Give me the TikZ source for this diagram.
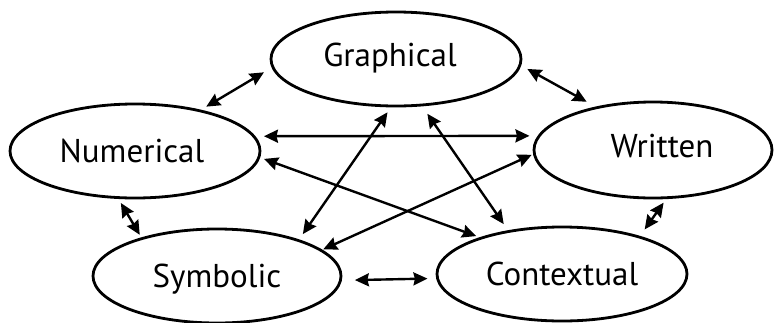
\documentclass[tikz,border=0pt]{standalone}
\usepackage{fontspec}
\setmainfont{PT Sans}
\usetikzlibrary{arrows.meta,shapes.geometric}
\begin{document}
\begin{tikzpicture}[x=1pt,y=-1pt,
  bubble/.style={draw, ellipse, line width=2.8pt, inner sep=0pt,
    font=\fontsize{33}{36}\selectfont, text height=23pt, text depth=0pt},
  link/.style={line width=2.4pt,
    {Stealth[length=14pt,width=13pt,inset=1.5pt]}-{Stealth[length=14pt,width=13pt,inset=1.5pt]}}]
\useasboundingbox (0,0) rectangle (774,322);
\node[bubble, minimum width=250pt, minimum height=94pt, text depth=8pt] (g) at (396,59) {Graphical\hspace*{12pt}};
\node[bubble, minimum width=250pt, minimum height=94pt] (n) at (135,151) {Numerical\hspace*{6pt}};
\node[bubble, minimum width=238pt, minimum height=96pt, text depth=8pt] (w) at (653,150) {\hspace*{18pt}Written};
\node[bubble, minimum width=248pt, minimum height=94pt] (s) at (217,276) {Symbolic};
\node[bubble, minimum width=250pt, minimum height=94pt] (c) at (562,274) {Contextual};
\draw[link, shorten <=9pt, shorten >=6pt] (g.184.8) -- (n.32.9);
\draw[link, shorten <=7pt, shorten >=10pt] (g.357.4) -- (w.143.6);
\draw[link, shorten <=8.6pt, shorten >=8.2pt] (n.7.2) -- (w.173);
\draw[link, shorten <=4pt, shorten >=3.6pt] (n.357.3) -- (c.156.5);
\draw[link, shorten <=9pt, shorten >=7.5pt] (g.299.9) -- (c.141.9);
\draw[link, shorten <=6pt, shorten >=6.5pt] (g.264.6) -- (s.24.6);
\draw[link, shorten <=1.5pt, shorten >=1pt] (w.182.4) -- (s.14);
\draw[link, shorten <=4.7pt, shorten >=3pt] (n.251.6) -- (s.153.1);
\draw[link, shorten <=4.4pt, shorten >=8pt] (w.285.1) -- (c.26.3);
\draw[link, shorten <=13pt, shorten >=8.7pt] (s.358.3) -- (c.182.6);
\end{tikzpicture}
\end{document}
